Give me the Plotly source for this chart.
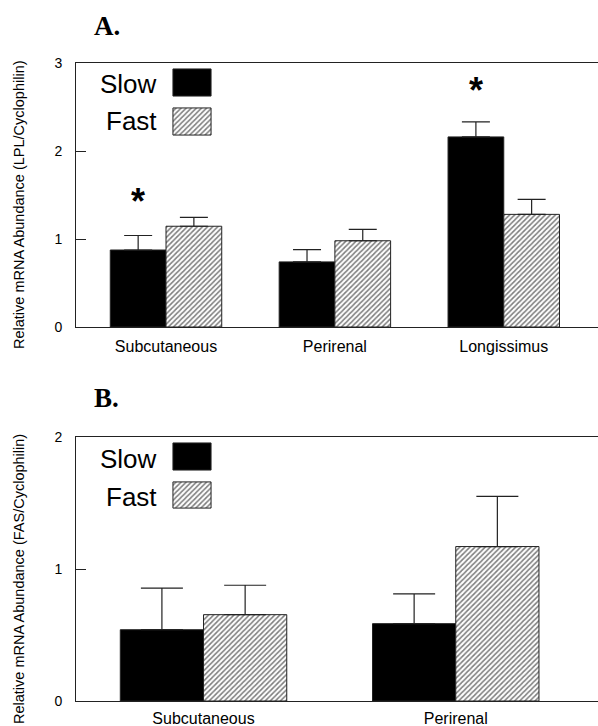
import plotly.graph_objects as go

W, H = 598, 726

# ---------------- data ----------------
lpl_categories = ["Subcutaneous", "Perirenal", "Longissimus"]
lpl_slow = [0.875, 0.74, 2.16]
lpl_slow_err = [0.165, 0.14, 0.17]
lpl_fast = [1.145, 0.98, 1.28]
lpl_fast_err = [0.10, 0.13, 0.17]
lpl_star_cats = ["Subcutaneous", "Longissimus"]
lpl_star_y = [1.49, 2.76]
lpl_yticks = [0, 1, 2, 3]

fas_categories = ["Subcutaneous", "Perirenal"]
fas_slow = [0.54, 0.586]
fas_slow_err = [0.315, 0.225]
fas_fast = [0.654, 1.17]
fas_fast_err = [0.223, 0.38]
fas_yticks = [0, 1, 2]

series_names = ["Slow", "Fast"]

# ---------------- helpers ----------------
def px_x(p):
    return p / W

def px_y(p):
    return 1 - p / H

LINE = "#222222"
FONT = "Liberation Sans, Arial, sans-serif"
HATCH = dict(shape="/", size=3.6, solidity=0.45, fgcolor="black", bgcolor="white", fillmode="overlay")

fig = go.Figure()

def add_bars(cats, slow, slow_err, fast, fast_err, xa, ya, capw):
    fig.add_trace(go.Bar(
        x=cats, y=slow, name=series_names[0], xaxis=xa, yaxis=ya,
        marker=dict(color="black", line=dict(color=LINE, width=1)),
        error_y=dict(type="data", symmetric=False, array=slow_err,
                     arrayminus=[0] * len(slow), color=LINE, thickness=1.2, width=capw),
        showlegend=False,
    ))
    fig.add_trace(go.Bar(
        x=cats, y=fast, name=series_names[1], xaxis=xa, yaxis=ya,
        marker=dict(color="white", pattern=HATCH, line=dict(color=LINE, width=1)),
        error_y=dict(type="data", symmetric=False, array=fast_err,
                     arrayminus=[0] * len(fast), color=LINE, thickness=1.2, width=capw),
        showlegend=False,
    ))

add_bars(lpl_categories, lpl_slow, lpl_slow_err, lpl_fast, lpl_fast_err, "x", "y", 14)
add_bars(fas_categories, fas_slow, fas_slow_err, fas_fast, fas_fast_err, "x2", "y2", 21)

# legend swatches (drawn as bars on tiny hidden axes)
swatches = [
    ("x3", "y3", 69, 96, "solid"),
    ("x4", "y4", 108, 135, "hatch"),
    ("x5", "y5", 443, 470, "solid"),
    ("x6", "y6", 482, 508, "hatch"),
]
layout_extra = {}
for xa, ya, top, bot, style in swatches:
    if style == "solid":
        marker = dict(color="black", line=dict(color=LINE, width=1))
    else:
        marker = dict(color="white", pattern=HATCH, line=dict(color=LINE, width=1))
    fig.add_trace(go.Bar(x=[0], y=[1], width=[1], xaxis=xa, yaxis=ya,
                         marker=marker, showlegend=False, hoverinfo="skip"))
    n = xa[1:]
    layout_extra["xaxis" + n] = dict(domain=[px_x(172), px_x(212)], range=[-0.525, 0.525],
                                     visible=False, anchor="y" + n, fixedrange=True, automargin=False)
    layout_extra["yaxis" + n] = dict(domain=[px_y(bot + 1), px_y(top - 1)], range=[-0.035, 1.035],
                                     visible=False, anchor="x" + n, fixedrange=True, automargin=False)

axis_common_x = dict(
    showline=True, linecolor=LINE, linewidth=1, mirror=True,
    ticks="", showgrid=False, zeroline=False, automargin=False,
    tickfont=dict(family=FONT, size=16, color="black"),
)
axis_common_y = dict(
    showline=True, linecolor=LINE, linewidth=1, mirror=False,
    ticks="inside", ticklen=10, tickcolor=LINE, tickwidth=1,
    showgrid=False, zeroline=False, automargin=False,
    tickfont=dict(family=FONT, size=14, color="black"),
    ticklabelstandoff=10,
)

fig.update_layout(
    width=W, height=H,
    margin=dict(l=0, r=0, t=0, b=0, autoexpand=False),
    paper_bgcolor="white", plot_bgcolor="white",
    barmode="group", bargap=0.34, bargroupgap=0,
    showlegend=False,
    xaxis=dict(domain=[px_x(76), 1], anchor="y", range=[-0.533, 2.558],
               ticklabelstandoff=5, **axis_common_x),
    yaxis=dict(domain=[px_y(327), px_y(63)], anchor="x", range=[0, 3],
               tickvals=lpl_yticks, **axis_common_y),
    xaxis2=dict(domain=[px_x(76), 1], anchor="y2", range=[-0.5056, 1.564],
                ticklabelstandoff=3, **axis_common_x),
    yaxis2=dict(domain=[px_y(701), px_y(437)], anchor="x2", range=[0, 2],
                tickvals=fas_yticks, **axis_common_y),
    **layout_extra,
)

annotations = []
# panel titles
for label, ycen in [("<b>A.</b>", 26), ("<b>B.</b>", 398)]:
    annotations.append(dict(text=label, x=px_x(92), y=px_y(ycen), xref="paper", yref="paper",
                            xanchor="left", yanchor="middle", showarrow=False,
                            font=dict(family="Liberation Serif, Times New Roman, serif", size=27, color="black")))
# y-axis titles
for label, ycen in [("Relative mRNA Abundance (LPL/Cyclophilin)", 205),
                    ("Relative mRNA Abundance (FAS/Cyclophilin)", 579)]:
    annotations.append(dict(text=label, x=px_x(19), y=px_y(ycen),
                            xref="paper", yref="paper", xanchor="center", yanchor="middle",
                            textangle=-90, showarrow=False,
                            font=dict(family=FONT, size=14.5, color="black")))
# legend texts
for label, ycen in [("Slow", 84), ("Fast", 121), ("Slow", 459), ("Fast", 497)]:
    annotations.append(dict(text=label, x=px_x(159), y=px_y(ycen), xref="paper", yref="paper",
                            xanchor="right", yanchor="middle", showarrow=False,
                            font=dict(family=FONT, size=26, color="black")))
# significance stars
for cat, yv in zip(lpl_star_cats, lpl_star_y):
    annotations.append(dict(text="<b>*</b>", x=cat, y=yv, xref="x", yref="y",
                            xshift=-28, yshift=-6, xanchor="center", yanchor="middle",
                            showarrow=False, font=dict(family=FONT, size=36, color="black")))

fig.update_layout(annotations=annotations)

fig.write_html("out.html",
               config={"displayModeBar": False},
               post_script="document.body.style.margin='0';document.body.style.overflow='hidden';")
